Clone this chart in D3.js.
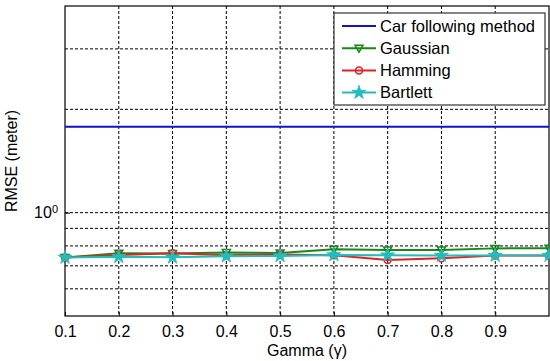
<!DOCTYPE html>
<html>
<head>
<meta charset="utf-8">
<title>rmse gamma</title>
<style>
	body{ margin:0; background:#fff; }
	text{ font-family: "Liberation Sans", Arial, sans-serif; fill:#000; }
	.grid line{ stroke:#000; stroke-width:1; stroke-dasharray:3,2; }
	.axis path, .axis line{ stroke:#000; }
</style>
<script src="https://d3js.org/d3.v7.min.js"></script>
</head>
<body>
<svg width="550" height="361"></svg>
<script>
	// data
	var gammas = [0.1, 0.2, 0.3, 0.4, 0.5, 0.6, 0.7, 0.8, 0.9, 1.0];
	var carFollowing = [1.78, 1.78, 1.78, 1.78, 1.78, 1.78, 1.78, 1.78, 1.78, 1.78];
	var gaussian = [0.740, 0.762, 0.760, 0.766, 0.763, 0.782, 0.779, 0.779, 0.787, 0.788];
	var hamming  = [0.740, 0.753, 0.762, 0.752, 0.755, 0.752, 0.728, 0.737, 0.750, 0.750];
	var bartlett = [0.740, 0.744, 0.741, 0.747, 0.748, 0.753, 0.752, 0.750, 0.750, 0.750];
	var xTicks = [0.1, 0.2, 0.3, 0.4, 0.5, 0.6, 0.7, 0.8, 0.9];
	var yGrid = [0.6, 0.7, 0.8, 0.9, 1, 2, 3];

	var svg = d3.select("svg"),
	    margin = {top: 6, right: 1, bottom: 45, left: 65},
	    width = 550 - margin.left - margin.right,
	    height = 361 - margin.top - margin.bottom;

	var x = d3.scaleLinear().domain([0.1, 1.0]).range([0, width]),
	    y = d3.scaleLog().domain([0.5, 4]).range([height, 0]);

	var g = svg.append("g")
	    .attr("transform", "translate(" + margin.left + "," + margin.top + ")");

	// grid
	g.append("g").attr("class", "grid")
	  .selectAll("line").data(xTicks.slice(1)).enter().append("line")
	    .attr("x1", function(d){ return x(d); }).attr("x2", function(d){ return x(d); })
	    .attr("y1", 0).attr("y2", height);
	g.append("g").attr("class", "grid")
	  .selectAll("line").data(yGrid).enter().append("line")
	    .attr("x1", 0).attr("x2", width)
	    .attr("y1", function(d){ return y(d); }).attr("y2", function(d){ return y(d); });

	// axes
	var xAxis = g.append("g").attr("class", "axis")
	    .attr("transform", "translate(0," + height + ")")
	    .call(d3.axisBottom(x).tickValues(xTicks).tickSize(-4).tickPadding(10).tickFormat(d3.format(".1f")));
	xAxis.selectAll("text").style("font-size", "16px");
	xAxis.select(".domain").remove();

	var yAxis = g.append("g").attr("class", "axis")
	    .call(d3.axisLeft(y).tickValues([1]).tickSize(-5).tickFormat(""));
	yAxis.select(".domain").remove();

	// frame
	g.append("rect")
	    .attr("width", width).attr("height", height)
	    .attr("fill", "none").attr("stroke", "#000").attr("stroke-width", 1.2);

	// 10^0 label
	var yl = g.append("text")
	    .attr("x", -7).attr("y", y(1)).attr("dy", "0.35em")
	    .attr("text-anchor", "end").style("font-size", "16px");
	yl.append("tspan").text("10");
	yl.append("tspan").attr("dy", "-0.5em").style("font-size", "11px").text("0");

	// axis titles
	g.append("text")
	    .attr("transform", "translate(-48," + height / 2 + ") rotate(-90)")
	    .attr("text-anchor", "middle").style("font-size", "16px")
	    .text("RMSE (meter)");
	g.append("text")
	    .attr("x", width / 2).attr("y", height + 40)
	    .attr("text-anchor", "middle").style("font-size", "16px")
	    .text("Gamma (γ)");

	// series
	var series = [
		{name: "Car following method", values: carFollowing, color: "#1010d0", marker: null},
		{name: "Gaussian", values: gaussian, color: "#148a14", marker: "tri"},
		{name: "Hamming", values: hamming, color: "#e02222", marker: "circle"},
		{name: "Bartlett", values: bartlett, color: "#22bcbc", marker: "star"}
	];

	var line = d3.line()
	    .x(function(d){ return x(d[0]); })
	    .y(function(d){ return y(d[1]); });

	function drawMarker(sel, type, color){
		if(type == "tri"){
			sel.append("path").attr("d", "M-4,-3L4,-3L0,4Z")
			   .attr("fill", "none").attr("stroke", color).attr("stroke-width", 1.5);
		} else if(type == "circle"){
			sel.append("circle").attr("r", 3.5)
			   .attr("fill", "none").attr("stroke", color).attr("stroke-width", 1.5);
		} else if(type == "star"){
			sel.append("path").attr("d", d3.symbol().type(d3.symbolStar).size(60)())
			   .attr("fill", color).attr("stroke", color).attr("stroke-width", 0.8);
		}
	}

	series.forEach(function(s){
		var pts = gammas.map(function(gm, i){ return [gm, s.values[i]]; });
		g.append("path").datum(pts)
		    .attr("fill", "none").attr("stroke", s.color).attr("stroke-width", 2)
		    .attr("d", line);
		if(s.marker){
			pts.forEach(function(p){
				var m = g.append("g").attr("transform", "translate(" + x(p[0]) + "," + y(p[1]) + ")");
				drawMarker(m, s.marker, s.color);
			});
		}
	});

	// legend
	var lg = svg.append("g").attr("transform", "translate(334,13)");
	lg.append("rect").attr("width", 211).attr("height", 92)
	    .attr("fill", "#fff").attr("stroke", "#333").attr("stroke-width", 1.2);
	series.forEach(function(s, i){
		var row = lg.append("g").attr("transform", "translate(0," + (13 + i * 22.2) + ")");
		row.append("line").attr("x1", 8).attr("x2", 42)
		    .attr("stroke", s.color).attr("stroke-width", 2);
		if(s.marker){
			var m = row.append("g").attr("transform", "translate(25,0)");
			drawMarker(m, s.marker, s.color);
		}
		row.append("text").attr("x", 46).attr("dy", "0.35em")
		    .style("font-size", "16.5px").text(s.name);
	});
</script>
</body>
</html>
